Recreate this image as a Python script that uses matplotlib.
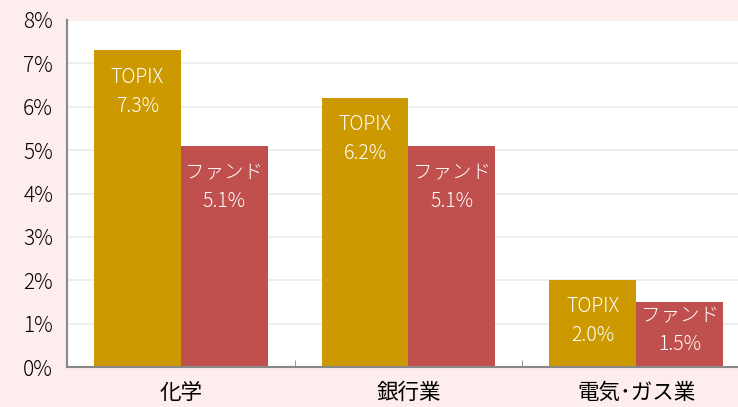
import numpy as np
from matplotlib import pyplot as plt

plt.rcParams['font.family'] = ['Noto Sans CJK JP', 'DejaVu Sans']

categories = ['化学', '銀行業', '電気･ガス業']
topix = [7.3, 6.2, 2.0]
fund = [5.1, 5.1, 1.5]
yticks = [0, 1, 2, 3, 4, 5, 6, 7, 8]

bg = '#fdeded'
gold = '#cc9900'
red = '#c0504d'

fig = plt.figure(figsize=(7.38, 4.07), dpi=100, facecolor=bg)
ax = fig.add_axes([67 / 738, 40 / 407, 1 - 67 / 738, 347 / 407])
ax.set_facecolor('white')

x = np.arange(len(categories))
w = 0.382
b1 = ax.bar(x - w / 2, topix, w, color=gold, zorder=2)
b2 = ax.bar(x + w / 2, fund, w, color=red, zorder=2)

# labels sit near the top of each bar, pushed up when the bar is short
for bars, name, vals in [(b1, 'TOPIX', topix), (b2, 'ファンド', fund)]:
    for rect, v in zip(bars, vals):
        yc = max(v - 0.95, 0.85)
        ax.text(rect.get_x() + rect.get_width() / 2, yc, f'{name}\n{v:.1f}%',
                ha='center', va='center', color='white', fontsize=14,
                fontweight='light', linespacing=1.5, zorder=3)

ax.set_ylim(0, 8)
ax.set_xlim(-0.5, 2.5 - 12 / 228)
ax.set_yticks(yticks)
ax.set_yticklabels([f'{t}%' for t in yticks], fontsize=15, fontweight='light')
ax.set_xticks(x)
ax.set_xticklabels(categories, fontsize=15.5)
ax.set_xticks([0.5, 1.5], minor=True)
ax.tick_params(axis='x', which='major', length=0, pad=11)
ax.tick_params(axis='x', which='minor', direction='in', length=5, color='#888888')
ax.tick_params(axis='y', length=0, pad=10)
ax.grid(axis='y', color='#ebebeb', linewidth=1.2, zorder=0)
for s in ['top', 'right']:
    ax.spines[s].set_visible(False)
for s in ['left', 'bottom']:
    ax.spines[s].set_color('#888888')
    ax.spines[s].set_linewidth(1.5)

plt.savefig('out.png', dpi=100, facecolor=bg)
